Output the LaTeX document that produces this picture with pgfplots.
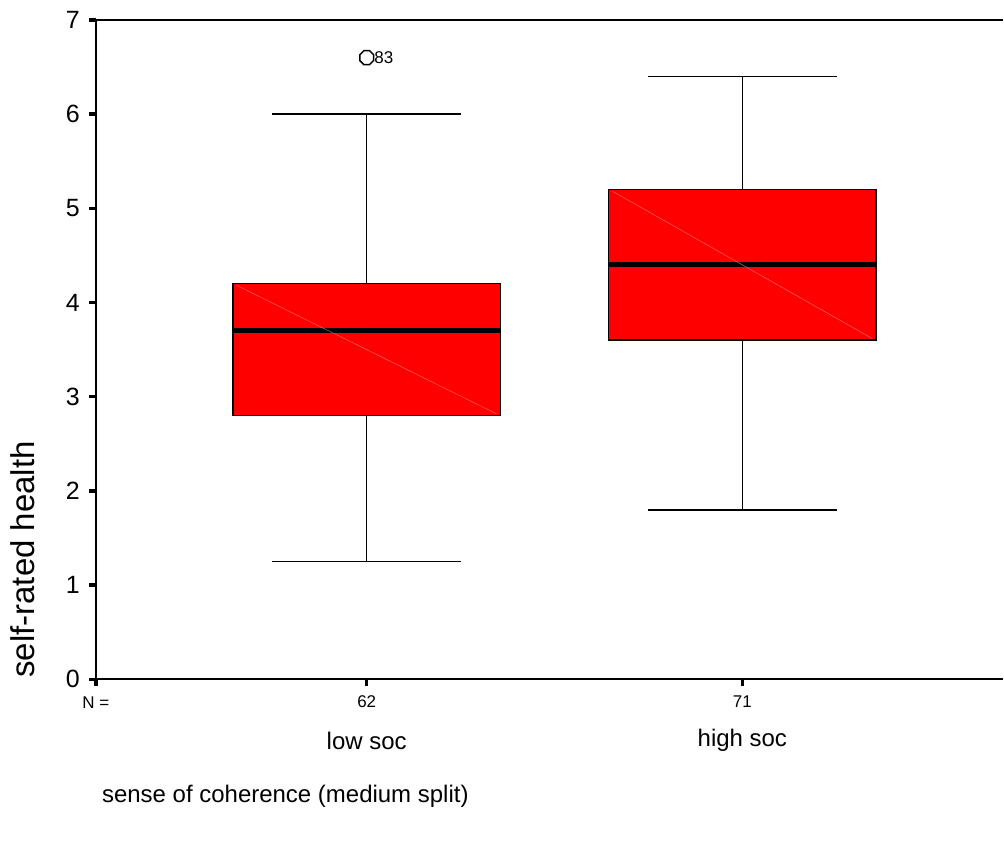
\documentclass[border=0pt]{standalone}
\usepackage{pgfplots}
\pgfplotsset{compat=1.18}
\usepgfplotslibrary{statistics}
\usepackage{fontspec}
\setmainfont{Liberation Sans}
\pgfdeclareplotmark{oct}{%
  \pgfpathmoveto{\pgfpointpolar{22.5}{\pgfplotmarksize}}%
  \pgfpathlineto{\pgfpointpolar{67.5}{\pgfplotmarksize}}%
  \pgfpathlineto{\pgfpointpolar{112.5}{\pgfplotmarksize}}%
  \pgfpathlineto{\pgfpointpolar{157.5}{\pgfplotmarksize}}%
  \pgfpathlineto{\pgfpointpolar{202.5}{\pgfplotmarksize}}%
  \pgfpathlineto{\pgfpointpolar{247.5}{\pgfplotmarksize}}%
  \pgfpathlineto{\pgfpointpolar{292.5}{\pgfplotmarksize}}%
  \pgfpathlineto{\pgfpointpolar{337.5}{\pgfplotmarksize}}%
  \pgfpathclose\pgfusepathqstroke}
\begin{document}
\begin{tikzpicture}
\begin{axis}[
  at={(0pt,0pt)}, anchor=south west,
  scale only axis, width=908pt, height=660pt,
  xmin=0.279, xmax=2.694, ymin=0, ymax=7,
  boxplot/draw direction=y,
  axis lines*=left,
  axis line style={line width=2pt, -},
  ytick={0,1,2,3,4,5,6,7},
  xtick={0.279,1,2},
  xticklabels={,62,71},
  tick align=outside,
  major tick length=6.5pt,
  tick style={line width=3.5pt, black},
  x tick label style={font=\fontsize{17}{19}\selectfont, yshift=-6pt},
  y tick label style={font=\fontsize{25}{27}\selectfont, xshift=-6pt},
  /pgf/number format/assume math mode=true,
  clip=false,
]
\draw[line width=2pt] (rel axis cs:0,1) -- (rel axis cs:1,1);
\addplot[boxplot prepared={draw position=1, lower whisker=1.25, lower quartile=2.8,
    median=3.7, upper quartile=4.2, upper whisker=6.0,
    box extend=0.713, whisker extend=0.503,
    every median/.style={line width=5pt, black},
    every box/.style={draw=black, line width=1.5pt, fill=red},
    every whisker/.style={black, line width=1.5pt}},
  mark=oct, mark size=7.5pt, mark options={line width=1.5pt, black}]
  coordinates {(1,6.6)};
\addplot[boxplot prepared={draw position=2, lower whisker=1.8, lower quartile=3.6,
    median=4.4, upper quartile=5.2, upper whisker=6.4,
    box extend=0.713, whisker extend=0.503,
    every median/.style={line width=5pt, black},
    every box/.style={draw=black, line width=1.5pt, fill=red},
    every whisker/.style={black, line width=1.5pt}}]
  coordinates {};
\addplot[draw=red!55!white, line width=0.4pt] coordinates {(0.655,4.18) (1.345,2.82)};
\addplot[draw=red!55!white, line width=0.4pt] coordinates {(1.655,5.18) (2.345,3.62)};
\node[anchor=west, font=\fontsize{17}{19}\selectfont, inner sep=0pt] at (axis cs:1.02,6.6) {83};
\node[font=\fontsize{17}{19}\selectfont] at (axis cs:0.279,-0.25) {N =};
\node[font=\fontsize{24}{26}\selectfont] at (axis cs:1,-0.65) {low soc};
\node[font=\fontsize{24}{26}\selectfont] at (axis cs:2,-0.65) {high soc};
\end{axis}
\node[anchor=west, font=\fontsize{24}{26}\selectfont, inner sep=0pt] at (6pt,-117pt) {sense of coherence (medium split)};
\node[rotate=90, font=\fontsize{33}{35}\selectfont, inner sep=0pt] at (-73pt,120pt) {self-rated health};
\path[use as bounding box] (-96pt,-162pt) rectangle (908pt,680pt);
\end{tikzpicture}
\end{document}
